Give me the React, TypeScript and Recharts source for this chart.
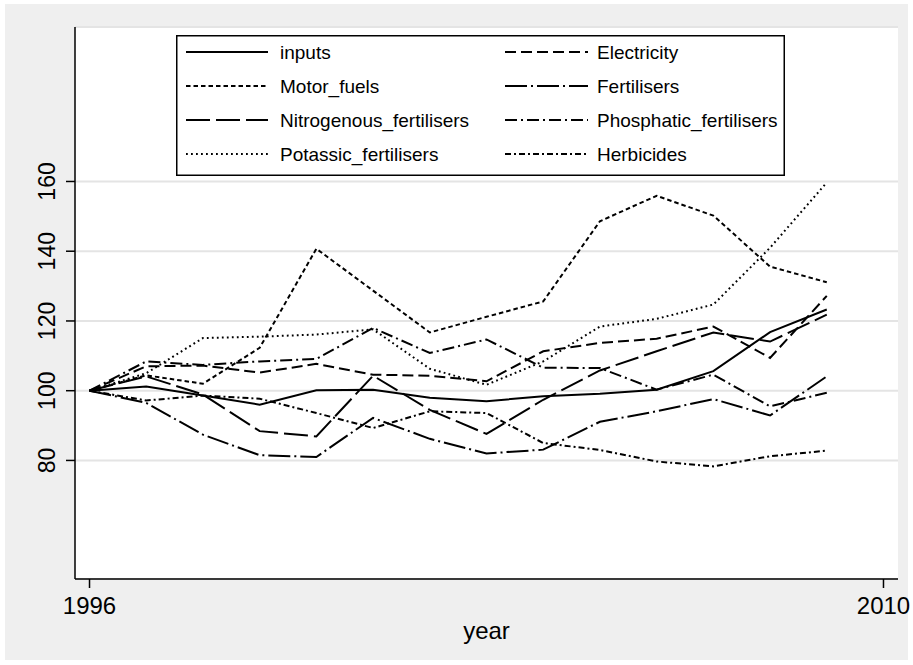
import React from 'react';
import { LineChart, Line, XAxis, YAxis, CartesianGrid } from 'recharts';

const years = [1996, 1997, 1998, 1999, 2000, 2001, 2002, 2003, 2004, 2005, 2006, 2007, 2008, 2009];
const inputs = [100, 101.2, 98.6, 96.0, 100.1, 100.3, 98.0, 97.0, 98.4, 99.1, 100.3, 105.6, 116.8, 123.3];
const electricity = [100, 107.0, 107.2, 105.2, 107.7, 104.6, 104.3, 102.7, 111.3, 113.7, 114.9, 118.4, 109.4, 127.2];
const motorFuels = [100, 104.4, 102.0, 112.3, 140.7, 128.7, 116.7, 121.2, 125.6, 148.6, 155.9, 150.2, 135.6, 131.1];
const fertilisers = [100, 96.5, 87.4, 81.5, 81.0, 92.2, 86.2, 82.0, 83.1, 91.1, 94.1, 97.6, 92.9, 104.1];
const nitrogenous = [100, 104.1, 98.9, 88.4, 86.9, 104.3, 94.5, 87.6, 97.4, 105.8, 111.3, 116.7, 114.1, 121.8];
const phosphatic = [100, 108.4, 107.4, 108.4, 109.1, 118.0, 110.8, 114.7, 106.6, 106.5, 100.3, 104.6, 95.5, 99.4];
const potassic = [100, 105.0, 115.1, 115.5, 116.1, 117.6, 106.3, 101.7, 108.4, 118.4, 120.6, 124.7, 141.0, 159.7];
const herbicides = [100, 97.2, 98.6, 97.7, 93.6, 89.3, 94.1, 93.6, 85.0, 83.0, 79.7, 78.3, 81.2, 82.8];

const xTicks = [1996, 2010];
const yTicks = [80, 100, 120, 140, 160];

const seriesNames = [
  'inputs', 'Electricity', 'Motor_fuels', 'Fertilisers',
  'Nitrogenous_fertilisers', 'Phosphatic_fertilisers', 'Potassic_fertilisers', 'Herbicides',
];
const seriesValues = [inputs, electricity, motorFuels, fertilisers, nitrogenous, phosphatic, potassic, herbicides];
const dashes = ['', '11 5', '4.5 3', '22 4 2 4', '24 6', '12 4 2 4', '1.8 3.2', '6 3 2 3'];

const data = years.map((year, i) => {
  const row: Record<string, number> = { year };
  seriesNames.forEach((n, k) => { row[n] = seriesValues[k][i]; });
  return row;
});

const FONT = '"Liberation Sans", Arial, Helvetica, sans-serif';

const YTick = (props: any) => {
  const { x, y, payload } = props;
  return (
    <text x={x} y={y} transform={`rotate(-90 ${x} ${y})`} textAnchor="middle" fontSize={23} fill="#000" fontFamily={FONT}>
      {payload.value}
    </text>
  );
};

const LegendBox = () => {
  const W = 609, H = 141;
  const rowY = [17, 51, 85, 119];
  return (
    <svg width={W} height={H} style={{ position: 'absolute', left: 176, top: 35 }}>
      <rect x={0.75} y={0.75} width={W - 1.5} height={H - 1.5} fill="#fff" stroke="#000" strokeWidth={1.5} />
      {seriesNames.map((n, k) => {
        const col = k % 2;
        const row = Math.floor(k / 2);
        const lx1 = col === 0 ? 10 : 329;
        const lx2 = col === 0 ? 92 : 412;
        const tx = col === 0 ? 104 : 421;
        const yy = rowY[row];
        return (
          <g key={n}>
            <line x1={lx1} x2={lx2} y1={yy} y2={yy} stroke="#000" strokeWidth={2} strokeDasharray={dashes[k] || undefined} />
            <text x={tx} y={yy} dy="0.35em" fontSize={19} fontFamily={FONT} fill="#000">{n}</text>
          </g>
        );
      })}
    </svg>
  );
};

export default function App() {
  return (
    <div style={{ position: 'relative', width: 913, height: 665, background: '#fff', fontFamily: FONT }}>
      <style>{'body{margin:0;}'}</style>
      <div style={{ position: 'absolute', left: 5, top: 4, width: 903, height: 656, background: '#efefef' }} />
      <div style={{ position: 'absolute', left: 0, top: 0 }}>
        <LineChart width={913} height={665} data={data} margin={{ top: 27, right: 15, left: 0, bottom: 0 }}>
          <CartesianGrid vertical={false} stroke="#e4e4e4" strokeWidth={2} fill="#fff" fillOpacity={1} />
          <XAxis
            dataKey="year"
            type="number"
            domain={[1995.744, 2010.256]}
            ticks={xTicks}
            allowDataOverflow
            height={86}
            tickSize={9}
            tickMargin={9}
            stroke="#000"
            axisLine={{ stroke: '#000', strokeWidth: 1.5 }}
            tickLine={{ stroke: '#000', strokeWidth: 1.5 }}
            tick={{ fontSize: 24, fill: '#000', fontFamily: FONT }}
            label={{ value: 'year', position: 'insideBottom', offset: 26, fontSize: 24, fill: '#000', fontFamily: FONT }}
          />
          <YAxis
            type="number"
            domain={[46.0, 204.3]}
            ticks={yTicks}
            allowDataOverflow
            width={75}
            tickSize={9}
            tickMargin={11}
            axisLine={{ stroke: '#000', strokeWidth: 1.5 }}
            tickLine={{ stroke: '#000', strokeWidth: 1.5 }}
            tick={<YTick />}
          />
          {seriesNames.map((n, k) => (
            <Line
              key={n}
              dataKey={n}
              type="linear"
              stroke="#000"
              strokeWidth={2}
              strokeDasharray={dashes[k] || undefined}
              dot={false}
              activeDot={false}
              isAnimationActive={false}
            />
          ))}
        </LineChart>
      </div>
      <LegendBox />
    </div>
  );
}
